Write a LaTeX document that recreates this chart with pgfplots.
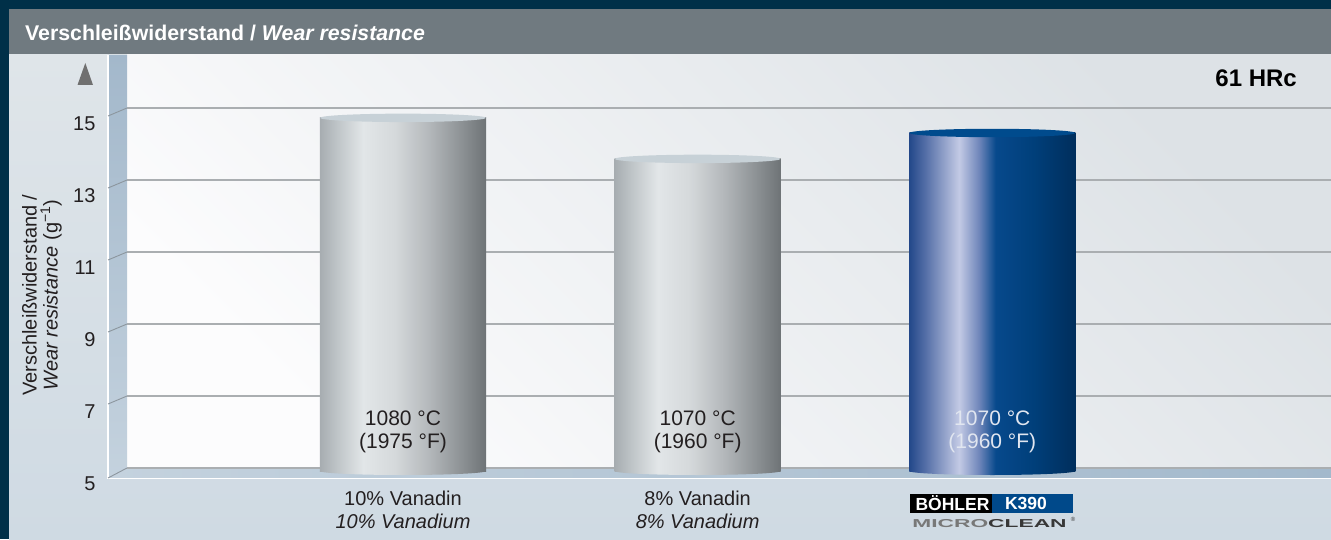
\documentclass[border=0pt]{standalone}
\usepackage{fontspec}
\setmainfont{Liberation Sans}
\usepackage{graphicx}
\usepackage{pgfplots}
\pgfplotsset{compat=1.18}

\definecolor{borderc}{RGB}{0,48,72}
\definecolor{titlebar}{RGB}{112,122,128}
\definecolor{paneltop}{RGB}{223,229,233}
\definecolor{panelbot}{RGB}{207,218,227}
\definecolor{walllo}{RGB}{252,252,253}
\definecolor{wallhi}{RGB}{221,226,230}
\definecolor{sidetop}{RGB}{163,184,203}
\definecolor{sidebot}{RGB}{196,210,222}
\definecolor{floorl}{RGB}{196,210,222}
\definecolor{floorr}{RGB}{163,185,204}
\definecolor{gridc}{RGB}{170,174,177}
\definecolor{slantc}{RGB}{140,150,158}
\definecolor{textc}{RGB}{35,31,32}
\definecolor{g0}{RGB}{167,173,177}
\definecolor{g1}{RGB}{190,196,199}
\definecolor{g2}{RGB}{226,230,232}
\definecolor{g3}{RGB}{213,217,219}
\definecolor{g4}{RGB}{181,185,188}
\definecolor{g5}{RGB}{141,146,149}
\definecolor{g6}{RGB}{110,115,118}
\definecolor{b0}{RGB}{35,72,138}
\definecolor{b1}{RGB}{86,112,168}
\definecolor{b2}{RGB}{195,202,229}
\definecolor{b3}{RGB}{111,134,186}
\definecolor{b4}{RGB}{7,73,140}
\definecolor{b5}{RGB}{0,63,122}
\definecolor{b6}{RGB}{0,46,92}
\definecolor{capgray}{RGB}{199,209,215}
\definecolor{capblue}{RGB}{0,75,141}
\definecolor{logoblue}{RGB}{0,73,138}
\definecolor{arrowc}{RGB}{112,112,112}

\pgfdeclarehorizontalshading{grayCyl}{100bp}{color(0bp)=(g0); color(25bp)=(g0); color(30bp)=(g1); color(38bp)=(g2); color(47.5bp)=(g3); color(57.5bp)=(g4); color(67.5bp)=(g5); color(75bp)=(g6); color(100bp)=(g6)}
\pgfdeclarehorizontalshading{blueCyl}{100bp}{color(0bp)=(b0); color(25bp)=(b0); color(30bp)=(b1); color(40bp)=(b2); color(46bp)=(b3); color(51bp)=(b4); color(62.5bp)=(b5); color(75bp)=(b6); color(100bp)=(b6)}

\pgfdeclareplotmark{captopgray}{%
  \pgfpathellipse{\pgfpointorigin}{\pgfqpoint{83pt}{0pt}}{\pgfqpoint{0pt}{4.2pt}}%
  \pgfsetfillcolor{capgray}\pgfusepathqfill}
\pgfdeclareplotmark{captopblue}{%
  \pgfpathellipse{\pgfpointorigin}{\pgfqpoint{83pt}{0pt}}{\pgfqpoint{0pt}{4.2pt}}%
  \pgfsetfillcolor{capblue}\pgfusepathqfill}
\pgfdeclareplotmark{capbotgray}{%
  \pgfpathellipse{\pgfpointorigin}{\pgfqpoint{83pt}{0pt}}{\pgfqpoint{0pt}{4pt}}%
  \pgfshadepath{grayCyl}{0}\pgfusepath{}}
\pgfdeclareplotmark{capbotblue}{%
  \pgfpathellipse{\pgfpointorigin}{\pgfqpoint{83pt}{0pt}}{\pgfqpoint{0pt}{4pt}}%
  \pgfshadepath{blueCyl}{0}\pgfusepath{}}

\begin{document}
\begin{tikzpicture}[x=1pt,y=1pt]
\useasboundingbox (0,0) rectangle (1331,539);
% frame and panels
\fill[borderc] (0,0) rectangle (1331,539);
\fill[titlebar] (9,484) rectangle (1331,530);
\shade[top color=paneltop, bottom color=panelbot] (9,0) rectangle (1331,484);
\shade[top color=wallhi, bottom color=walllo, shading angle=-45] (127,71) rectangle (1331,484);
\shade[top color=sidetop, bottom color=sidebot] (108,484) -- (127,484) -- (127,71) -- (108,61) -- cycle;
\shade[left color=floorl, right color=floorr] (108,61) -- (127,71) -- (1331,71) -- (1331,61) -- cycle;
\draw[white, line width=1.5] (108,484) -- (108,60.3) -- (1331,60.3);
\foreach \v in {7,9,11,13,15} {
  \draw[slantc, line width=0.9] (108,{71+36*(\v-5)-8}) -- (127,{71+36*(\v-5)});
}
\draw[slantc, line width=0.9] (108,61) -- (127,71);
\draw[slantc!80!black, line width=1] (127,70.2) -- (1331,70.2);
% axis arrow
\fill[arrowc] (77.5,454) -- (85.3,476) -- (93,454) -- cycle;

% title
\node[anchor=west, text=white, inner sep=0, font=\bfseries\fontsize{21.3}{24}\selectfont] at (25,506) {Verschleißwiderstand / \textit{Wear resistance}};
% y label
\node[rotate=90, align=center, text=textc, inner sep=0, font=\fontsize{20}{21}\selectfont] at (42,244) {Verschleißwiderstand /\\\textit{Wear resistance} (g\textsuperscript{−1})};
% 61 HRc
\node[anchor=east, inner sep=0, text=black, font=\bfseries\fontsize{24}{26}\selectfont] at (1297,461) {61 HRc};

\begin{axis}[
  at={(127pt,68pt)}, anchor=south west,
  scale only axis, width=1204pt, height=416pt,
  xmin=0.0633, xmax=4.1495, ymin=5, ymax=16.556,
  axis line style={draw=none},
  major tick length=0pt,
  xtick={1,2,3},
  xticklabels={{10\% Vanadin\\\textit{10\% Vanadium}},{8\% Vanadin\\\textit{8\% Vanadium}},{}},
  xticklabel style={align=center, font=\fontsize{20}{23}\selectfont, text=textc, yshift=-16pt},
  ytick={5,7,9,11,13,15},
  yticklabel style={font=\fontsize{20}{22}\selectfont, text=textc, xshift=-28pt, yshift=-13pt},
  /pgf/number format/assume math mode=true,
  ymajorgrids,
  major grid style={draw=gridc, line width=1.6pt, yshift=3pt},
]
\addplot[ybar, bar width=166pt, bar shift=0pt, draw=none, shade, shading=grayCyl] coordinates {(1,14.81)};
\addplot[ybar, bar width=166pt, bar shift=0pt, draw=none, shade, shading=grayCyl] coordinates {(2,13.67)};
\addplot[ybar, bar width=166pt, bar shift=0pt, draw=none, shade, shading=blueCyl] coordinates {(3,14.39)};
\addplot[only marks, mark=capbotgray] coordinates {(1,5) (2,5)};
\addplot[only marks, mark=capbotblue] coordinates {(3,5)};
\addplot[only marks, mark=captopgray] coordinates {(1,14.81) (2,13.67)};
\addplot[only marks, mark=captopblue] coordinates {(3,14.39)};
\node[align=center, text=textc, font=\fontsize{21}{23}\selectfont] at (axis cs:1,6.09) {1080 °C\\(1975 °F)};
\node[align=center, text=textc, font=\fontsize{21}{23}\selectfont] at (axis cs:2,6.09) {1070 °C\\(1960 °F)};
\node[align=center, text={rgb,255:red,225;green,230;blue,240}, font=\fontsize{21}{23}\selectfont] at (axis cs:3,6.09) {1070 °C\\(1960 °F)};
\end{axis}

% logo
\fill[black] (910,26.3) rectangle (992,45);
\fill[logoblue] (992,26.3) rectangle (1073,45);
\node[text=white, inner sep=0, font=\bfseries\fontsize{17.5}{18}\selectfont] at (952.5,35.6) {BÖHLER};
\node[text=white, inner sep=0, font=\bfseries\fontsize{17.5}{18}\selectfont] at (1026,35.6) {K390};
\node[inner sep=0, font=\bfseries\fontsize{11.5}{12}\selectfont] at (989.5,15.7) {\scalebox{1.98}[1]{\textcolor[RGB]{120,120,120}{MICRO}\textcolor[RGB]{55,55,55}{CLEAN}}};
\node[inner sep=0, font=\fontsize{6}{7}\selectfont, text={rgb,255:red,55;green,55;blue,55}] at (1073,19.5) {®};
\end{tikzpicture}
\end{document}
